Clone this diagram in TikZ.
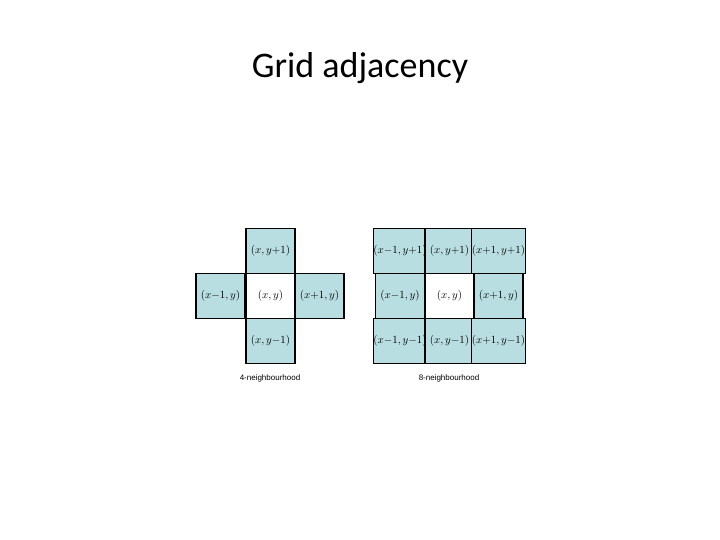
\documentclass[tikz,border=0pt]{standalone}
\usepackage{fontspec}
\setmainfont{Liberation Serif}
\newfontfamily\titlefont{Carlito}
\newfontfamily\capfont{Liberation Sans}
\definecolor{cellblue}{RGB}{184,222,226}
\begin{document}
\begin{tikzpicture}[x=1pt,y=-1pt,
  cell/.style={draw=black,line width=1.2pt,fill=cellblue,minimum width=49pt,minimum height=45pt,inner sep=0pt,font=\fontsize{10.5}{12}\selectfont},
  wcell/.style={cell,fill=white},
  captext/.style={font=\capfont\fontsize{8}{9}\selectfont}]
\useasboundingbox (0,0) rectangle (720,540);
\node[font=\titlefont\fontsize{36}{40}\selectfont] (title) at (360,68) {Grid adjacency};
% 4-neighbourhood
\node[cell] (n4t) at (270.5,251) {$(x,y{+}1)$};
\node[cell] (n4l) at (220.5,296) {$(x{-}1,y)$};
\node[wcell] (n4c) at (270.5,296) {$(x,y)$};
\node[cell] (n4r) at (319.5,296) {$(x{+}1,y)$};
\node[cell] (n4b) at (270.5,341) {$(x,y{-}1)$};
\node[captext] (cap4) at (270,378) {4-neighbourhood};
% 8-neighbourhood
\node[cell] (a1) at (400,251) {$(x{-}1,y{+}1)$};
\node[cell] (a2) at (449.5,251) {$(x,y{+}1)$};
\node[cell] (a3) at (498.5,251) {$(x{+}1,y{+}1)$};
\node[cell] (b1) at (400,296) {$(x{-}1,y)$};
\node[wcell] (b2) at (449.5,296) {$(x,y)$};
\node[cell] (b3) at (498.5,296) {$(x{+}1,y)$};
\node[cell] (c1) at (400,341) {$(x{-}1,y{-}1)$};
\node[cell] (c2) at (449.5,341) {$(x,y{-}1)$};
\node[cell] (c3) at (498.5,341) {$(x{+}1,y{-}1)$};
\node[captext] (cap8) at (449,378) {8-neighbourhood};
\end{tikzpicture}
\end{document}
